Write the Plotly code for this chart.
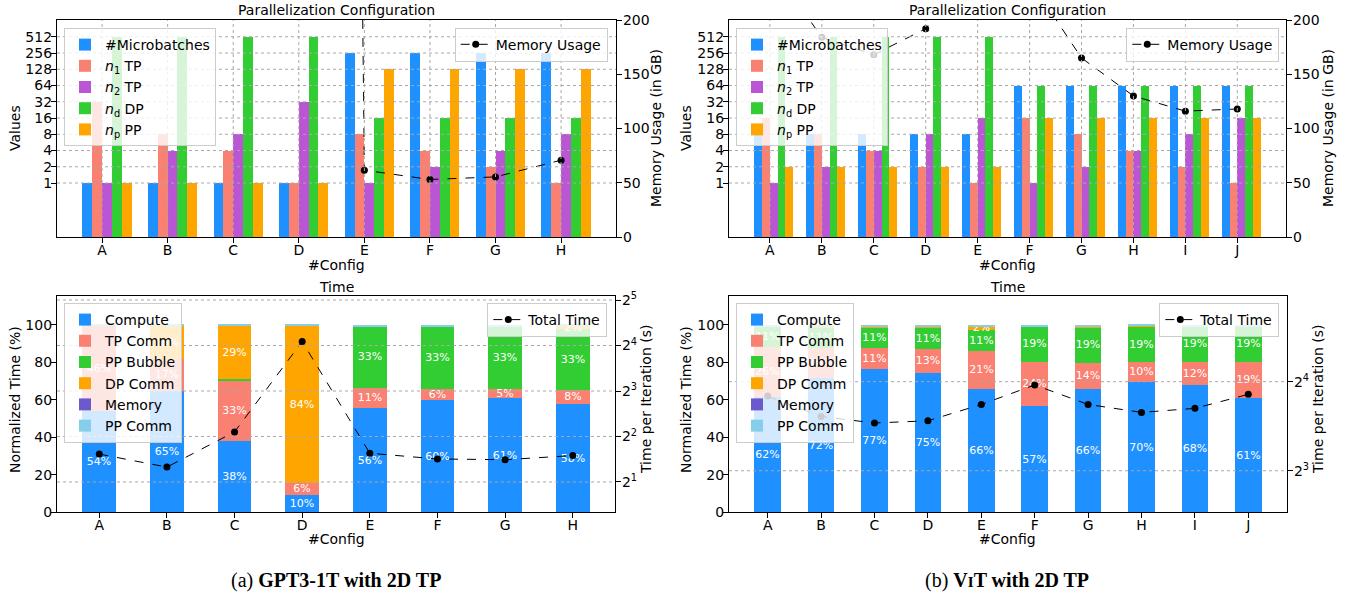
import plotly.graph_objects as go

FONT = "DejaVu Sans"

# ---------------- data ----------------
CFG_GPT = ["A", "B", "C", "D", "E", "F", "G", "H"]
CFG_VIT = ["A", "B", "C", "D", "E", "F", "G", "H", "I", "J"]

# Parallelization configuration (top panels)
GPT_MICRO = [1, 1, 1, 1, 256, 256, 256, 256]
GPT_N1 = [32, 8, 4, 1, 8, 4, 2, 1]
GPT_N2 = [1, 4, 8, 32, 1, 2, 4, 8]
GPT_ND = [512, 512, 512, 512, 16, 16, 16, 16]
GPT_NP = [1, 1, 1, 1, 128, 128, 128, 128]
GPT_MEM = [2900, 3300, 4000, 5600, 61.6, 53.0, 55.4, 70.8]

VIT_MICRO = [8, 8, 8, 8, 8, 64, 64, 64, 64, 64]
VIT_N1 = [16, 8, 4, 2, 1, 16, 8, 4, 2, 1]
VIT_N2 = [1, 2, 4, 8, 16, 1, 2, 4, 8, 16]
VIT_ND = [512, 512, 512, 512, 512, 64, 64, 64, 64, 64]
VIT_NP = [2, 2, 2, 2, 2, 16, 16, 16, 16, 16]
VIT_MEM = [252, 184, 168, 192, 249, 237, 165, 130, 116, 118]

# Time breakdown (bottom panels), percent
GPT_COMPUTE = [54.0, 65.0, 38.0, 9.6, 55.6, 59.8, 60.8, 57.6]
GPT_TP = [45.6, 16.6, 32.6, 6.0, 10.8, 6.0, 5.2, 7.8]
GPT_BUBBLE = [0.0, 0.0, 0.4, 0.0, 33.0, 33.4, 33.4, 32.6]
GPT_DP = [0.0, 17.9, 28.6, 84.0, 0.0, 0.0, 0.0, 1.6]
GPT_MEMT = [0, 0, 0, 0, 0, 0, 0, 0]
GPT_PPC = [0.4, 0.5, 0.4, 0.4, 0.6, 0.8, 0.6, 0.4]
GPT_TIME = [3.06, 2.51, 4.29, 17.0, 3.10, 2.84, 2.81, 2.99]

VIT_COMPUTE = [61.8, 71.6, 76.6, 74.6, 65.6, 56.6, 65.6, 69.8, 67.9, 61.0]
VIT_TP = [26.3, 16.2, 11.3, 12.8, 20.7, 23.5, 14.3, 10.3, 12.2, 19.1]
VIT_BUBBLE = [10.8, 11.0, 10.9, 11.2, 10.9, 19.2, 18.8, 18.9, 19.2, 19.2]
VIT_DP = [0.3, 0.4, 0.6, 0.7, 2.0, 0.0, 0.7, 0.5, 0.0, 0.0]
VIT_MEMT = [0, 0, 0, 0, 0, 0, 0, 0, 0, 0]
VIT_PPC = [0.8, 0.8, 0.6, 0.7, 0.8, 0.7, 0.6, 0.5, 0.7, 0.7]
VIT_TIME = [14.3, 12.2, 11.6, 11.8, 13.4, 15.6, 13.4, 12.6, 13.0, 14.5]

VAL_TICKS = [1, 2, 4, 8, 16, 32, 64, 128, 256, 512]
MEM_TICKS = [0, 50, 100, 150, 200]
PCT_TICKS = [0, 20, 40, 60, 80, 100]
TIME_TICKS_GPT = [2, 4, 8, 16, 32]
TIME_TICKS_VIT = [8, 16]

PAR_NAMES = ["#Microbatches", "<i>n</i><sub>1</sub> TP", "<i>n</i><sub>2</sub> TP",
             "<i>n</i><sub>d</sub> DP", "<i>n</i><sub>p</sub> PP"]
PAR_COLORS = ["#1E90FF", "#FA8072", "#BA55D3", "#32CD32", "#FFA500"]
TIME_NAMES = ["Compute", "TP Comm", "PP Bubble", "DP Comm", "Memory", "PP Comm"]
TIME_COLORS = ["#1E90FF", "#FA8072", "#32CD32", "#FFA500", "#6A5ACD", "#87CEEB"]

W = 1345
H = 597

fig = go.Figure()


def px_x(p):
    return p / W


def px_y(p):
    return 1 - p / H


# ---------------- top panels ----------------
def add_par(series, mem, xa, ya, ya2, leg, leg2):
    n = len(series[0])
    bw = 0.15
    for k, (nm, col, vals) in enumerate(zip(PAR_NAMES, PAR_COLORS, series)):
        fig.add_trace(go.Bar(
            x=[i + (k - 2) * bw + bw / 2 for i in range(n)], y=vals, width=bw,
            marker=dict(color=col, line=dict(width=0)), name=nm,
            xaxis=xa, yaxis=ya, legend=leg, hoverinfo="skip"))
    fig.add_trace(go.Scatter(
        x=list(range(n)), y=mem, mode="lines+markers", name="Memory Usage",
        line=dict(color="black", dash="dash", width=1),
        marker=dict(color="black", size=7),
        xaxis=xa, yaxis=ya2, legend=leg2))


add_par([GPT_MICRO, GPT_N1, GPT_N2, GPT_ND, GPT_NP], GPT_MEM, "x", "y", "y2", "legend", "legend2")
add_par([VIT_MICRO, VIT_N1, VIT_N2, VIT_ND, VIT_NP], VIT_MEM, "x2", "y3", "y4", "legend3", "legend4")


# ---------------- bottom panels ----------------
def add_time(series, ttime, xa, ya, ya2, leg, leg2):
    n = len(series[0])
    for nm, col, vals in zip(TIME_NAMES, TIME_COLORS, series):
        txt = [f"{v:.0f}%" if v >= 1.5 else "" for v in vals]
        fig.add_trace(go.Bar(
            x=list(range(n)), y=vals, width=0.5, name=nm, text=txt,
            textposition="inside", insidetextanchor="middle", textangle=0,
            textfont=dict(color="white", size=11, family=FONT),
            marker=dict(color=col, line=dict(width=0)),
            xaxis=xa, yaxis=ya, legend=leg, hoverinfo="skip"))
    fig.add_trace(go.Scatter(
        x=list(range(n)), y=ttime, mode="lines+markers", name="Total Time",
        line=dict(color="black", dash="dash", width=1),
        marker=dict(color="black", size=7),
        xaxis=xa, yaxis=ya2, legend=leg2))


add_time([GPT_COMPUTE, GPT_TP, GPT_BUBBLE, GPT_DP, GPT_MEMT, GPT_PPC], GPT_TIME,
         "x3", "y5", "y6", "legend5", "legend6")
add_time([VIT_COMPUTE, VIT_TP, VIT_BUBBLE, VIT_DP, VIT_MEMT, VIT_PPC], VIT_TIME,
         "x4", "y7", "y8", "legend7", "legend8")

# ---------------- axes ----------------
TOP_Y = [px_y(237), px_y(20)]
BOT_Y = [px_y(512.3), px_y(295.7)]

base_ax = dict(showline=True, linecolor="black", linewidth=1.2, ticks="outside",
               ticklen=5, tickwidth=1.2, tickcolor="black", showgrid=False,
               zeroline=False, automargin=False,
               tickfont=dict(family=FONT, size=14, color="black"))
LEFT = dict(base_ax, ticklabelstandoff=-4)
RIGHT = dict(base_ax, ticklabelstandoff=-2)


def xax(dom, anchor, n, rng):
    return dict(base_ax, domain=dom, anchor=anchor, range=rng, mirror=True,
                ticklabelstandoff=-5,
                tickvals=list(range(n)), ticktext=(CFG_GPT if n == 8 else CFG_VIT))


def sup(v):
    e = {2: 1, 4: 2, 8: 3, 16: 4, 32: 5}[v]
    return f"2<sup>{e}</sup>"


fig.update_layout(
    xaxis=xax([px_x(57), px_x(616)], "y", 8, [-0.6875, 7.8375]),
    yaxis=dict(LEFT, domain=TOP_Y, anchor="x", type="log", range=[-1.0, 3.02],
               tickvals=VAL_TICKS, ticktext=[str(v) for v in VAL_TICKS]),
    yaxis2=dict(RIGHT, overlaying="y", side="right", anchor="x", range=[0, 200],
                tickvals=MEM_TICKS),
    xaxis2=xax([px_x(729), px_x(1286)], "y3", 10, [-0.7875, 9.9375]),
    yaxis3=dict(LEFT, domain=TOP_Y, anchor="x2", type="log", range=[-1.0, 3.02],
                tickvals=VAL_TICKS, ticktext=[str(v) for v in VAL_TICKS]),
    yaxis4=dict(RIGHT, overlaying="y3", side="right", anchor="x2", range=[0, 200],
                tickvals=MEM_TICKS),
    xaxis3=xax([px_x(57), px_x(615)], "y5", 8, [-0.625, 7.625]),
    yaxis5=dict(LEFT, domain=BOT_Y, anchor="x3", range=[0, 115.4], tickvals=PCT_TICKS),
    yaxis6=dict(RIGHT, overlaying="y5", side="right", anchor="x3", type="log",
                range=[0.1005, 1.5337], tickvals=TIME_TICKS_GPT,
                ticktext=[sup(v) for v in TIME_TICKS_GPT]),
    xaxis4=xax([px_x(729), px_x(1287)], "y7", 10, [-0.725, 9.725]),
    yaxis7=dict(LEFT, domain=BOT_Y, anchor="x4", range=[0, 115.4], tickvals=PCT_TICKS),
    yaxis8=dict(RIGHT, overlaying="y7", side="right", anchor="x4", type="log",
                range=[0.7625, 1.4949], tickvals=TIME_TICKS_VIT,
                ticktext=[sup(v) for v in TIME_TICKS_VIT]),
)

# ---------------- grid lines (drawn above bars, like matplotlib) ----------------
GRID = dict(color="#a8a8a8", width=1, dash="dot")
shapes = []
for xa, ya, n in [("x", "y", 8), ("x2", "y3", 10)]:
    for v in VAL_TICKS:
        shapes.append(dict(type="line", xref=f"{xa} domain", yref=ya, x0=0, x1=1,
                           y0=v, y1=v, line=GRID, layer="above"))
    for i in range(n):
        shapes.append(dict(type="line", xref=xa, yref=f"{ya} domain", x0=i, x1=i,
                           y0=0, y1=1, line=GRID, layer="above"))
for xa, ya, ticks in [("x3", "y6", TIME_TICKS_GPT), ("x4", "y8", TIME_TICKS_VIT)]:
    for v in ticks:
        shapes.append(dict(type="line", xref=f"{xa} domain", yref=ya, x0=0, x1=1,
                           y0=v, y1=v, line=GRID, layer="above"))
fig.update_layout(shapes=shapes)

# ---------------- legends ----------------
LEG = dict(bgcolor="rgba(255,255,255,0.8)", bordercolor="#cccccc", borderwidth=1,
           font=dict(family=FONT, size=14, color="black"), traceorder="normal",
           tracegroupgap=0, yanchor="top")
fig.update_layout(
    legend=dict(LEG, x=px_x(64), y=px_y(28), xanchor="left"),
    legend2=dict(LEG, x=px_x(607.7), y=px_y(27.7), xanchor="right"),
    legend3=dict(LEG, x=px_x(736), y=px_y(28), xanchor="left"),
    legend4=dict(LEG, x=px_x(1279.3), y=px_y(27.7), xanchor="right"),
    legend5=dict(LEG, x=px_x(64), y=px_y(303), xanchor="left"),
    legend6=dict(LEG, x=px_x(607.3), y=px_y(303), xanchor="right"),
    legend7=dict(LEG, x=px_x(736), y=px_y(303), xanchor="left"),
    legend8=dict(LEG, x=px_x(1279.3), y=px_y(303), xanchor="right"),
)

# ---------------- titles / captions ----------------
ann = []


def text(x, y, s, size=14, angle=0, fam=FONT):
    ann.append(dict(x=px_x(x), y=px_y(y), xref="paper", yref="paper", text=s,
                    showarrow=False, textangle=angle, xanchor="center", yanchor="middle",
                    font=dict(family=fam, size=size, color="black")))


for cx in [336.5, 1007.5]:
    text(cx, 10, "Parallelization Configuration")
    text(cx, 287, "Time")
    text(cx, 265, "#Config")
    text(cx, 539, "#Config")

text(15, 128, "Values", angle=-90)
text(656, 128, "Memory Usage (in GB)", angle=-90)
text(686, 128, "Values", angle=-90)
text(1328, 128, "Memory Usage (in GB)", angle=-90)
text(15, 400, "Normalized Time (%)", angle=-90)
text(646, 400, "Time per Iteration (s)", angle=-90)
text(686, 400, "Normalized Time (%)", angle=-90)
text(1318, 400, "Time per Iteration (s)", angle=-90)

text(336, 580, "(a) <b>GPT3-1T with 2D TP</b>", size=20, fam="Liberation Serif")
text(1007, 580, "(b) <b>V<span style='font-size:15px'>I</span>T with 2D TP</b>", size=20,
     fam="Liberation Serif")

fig.update_layout(
    annotations=ann,
    barmode="stack",
    bargap=0,
    width=W, height=H, autosize=False,
    margin=dict(l=0, r=0, t=0, b=0),
    paper_bgcolor="white", plot_bgcolor="white",
    uniformtext=dict(minsize=11, mode="show"),
    font=dict(family=FONT, size=14, color="black"),
    hovermode=False,
)

fig.write_html("out.html", config={"displayModeBar": False},
               post_script="document.body.style.margin='0px';document.body.style.overflow='hidden';")
